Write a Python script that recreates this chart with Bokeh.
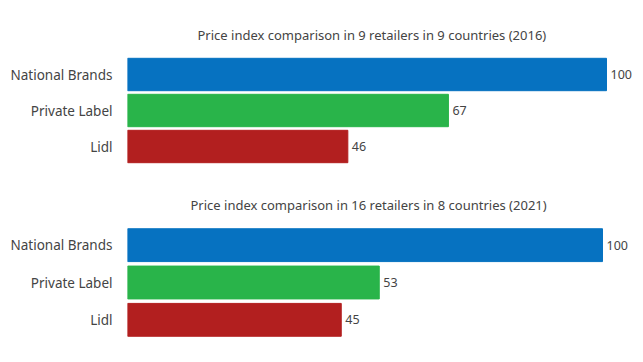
from bokeh.plotting import figure
from bokeh.layouts import column
from bokeh.models import Range1d, FactorRange, ColumnDataSource
from bokeh.core.properties import value
from bokeh.embed import file_html
from bokeh.resources import INLINE

categories = ["National Brands", "Private Label", "Lidl"]
values_2016 = [100, 67, 46]
values_2021 = [100, 53, 45]
titles = ["Price index comparison in 9 retailers in 9 countries (2016)",
          "Price index comparison in 16 retailers in 8 countries (2021)"]
colors = ["#0672c1", "#29b44a", "#b21f1f"]

FONT = "Noto Sans"
TXT = "#444444"


def make(vals, title, height, top, frame_h, xmax, bar_h, title_off):
    p = figure(width=643, height=height, output_backend="svg", toolbar_location=None,
               y_range=FactorRange(factors=list(reversed(categories)), range_padding=0),
               x_range=Range1d(0, xmax), title=title,
               min_border_left=127, min_border_right=3, min_border_top=top,
               min_border_bottom=height - top - frame_h)
    p.title.text_font = FONT
    p.title.text_font_size = "13px"
    p.title.text_font_style = "normal"
    p.title.text_color = TXT
    p.title.align = "left"
    p.title.offset = title_off
    p.title.standoff = 26
    src = ColumnDataSource(dict(cat=categories, val=vals, color=colors,
                                lab=[str(v) for v in vals]))
    p.hbar(y="cat", right="val", left=0, height=bar_h, color="color", source=src)
    p.text(x="val", y="cat", text="lab", source=src, x_offset=4,
           text_baseline="middle", text_align="left", text_font=value(FONT),
           text_font_size="12.5px", text_color=TXT)
    p.xaxis.visible = False
    p.xgrid.visible = False
    p.ygrid.visible = False
    p.outline_line_color = None
    ax = p.yaxis[0]
    ax.axis_line_color = None
    ax.major_tick_line_color = None
    ax.minor_tick_line_color = None
    ax.major_label_standoff = 9
    ax.major_label_text_font = FONT
    ax.major_label_text_font_size = "13.5px"
    ax.major_label_text_color = TXT
    return p


p1 = make(values_2016, titles[0], 180, 56, 108, 100 * (640 - 127) / 479, 0.9, 70)
p2 = make(values_2021, titles[1], 182, 46, 112, 100 * (640 - 127) / 475, 0.88, 63)
layout = column(p1, p2, spacing=0)

open("out.html", "w").write(file_html(layout, INLINE))
